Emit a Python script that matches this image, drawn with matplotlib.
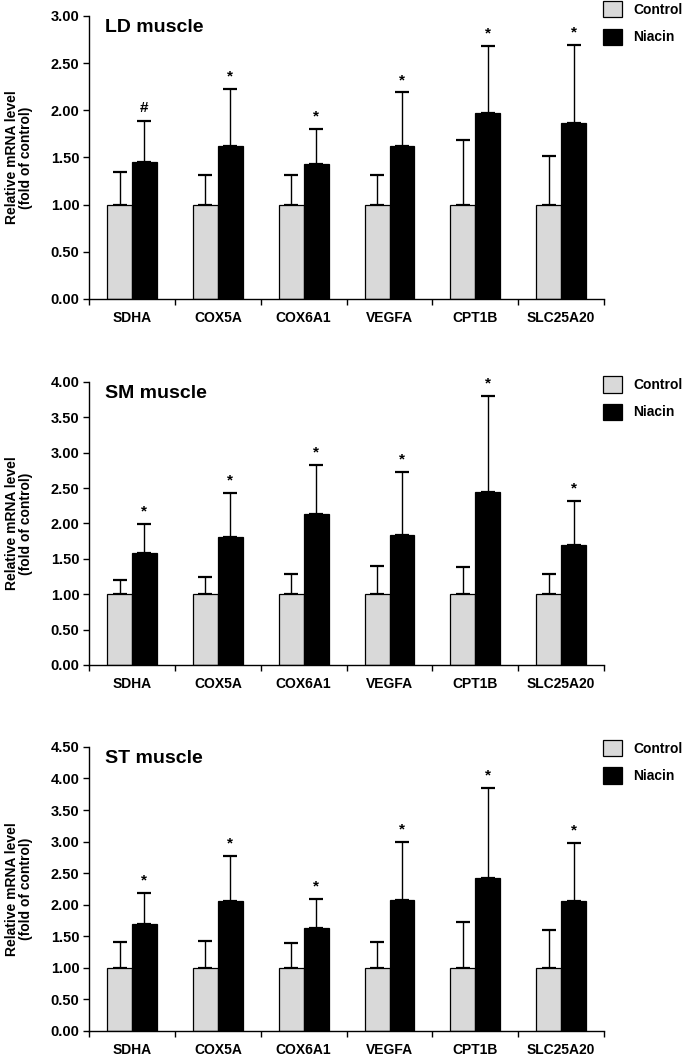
import matplotlib
matplotlib.use("Agg")
import matplotlib.pyplot as plt
import numpy as np

plt.rcParams['font.family'] = ['Liberation Sans', 'DejaVu Sans']
plt.rcParams['font.weight'] = 'bold'

# ── data ──
genes = ["SDHA", "COX5A", "COX6A1", "VEGFA", "CPT1B", "SLC25A20"]
groups = ["Control", "Niacin"]

ld_control = [1.00, 1.00, 1.00, 1.00, 1.00, 1.00]
ld_control_err = [0.35, 0.31, 0.31, 0.31, 0.69, 0.52]
ld_niacin = [1.45, 1.62, 1.43, 1.62, 1.97, 1.86]
ld_niacin_err = [0.44, 0.61, 0.37, 0.57, 0.71, 0.83]
ld_marks = ["#", "*", "*", "*", "*", "*"]

sm_control = [1.00, 1.00, 1.00, 1.00, 1.00, 1.00]
sm_control_err = [0.20, 0.24, 0.29, 0.40, 0.39, 0.29]
sm_niacin = [1.58, 1.81, 2.14, 1.84, 2.45, 1.70]
sm_niacin_err = [0.41, 0.62, 0.69, 0.89, 1.35, 0.62]
sm_marks = ["*", "*", "*", "*", "*", "*"]

st_control = [1.00, 1.00, 1.00, 1.00, 1.00, 1.00]
st_control_err = [0.41, 0.42, 0.40, 0.41, 0.73, 0.60]
st_niacin = [1.70, 2.06, 1.63, 2.08, 2.43, 2.06]
st_niacin_err = [0.49, 0.71, 0.46, 0.92, 1.42, 0.92]
st_marks = ["*", "*", "*", "*", "*", "*"]

panels = [
    ("LD muscle", ld_control, ld_control_err, ld_niacin, ld_niacin_err, ld_marks, 3.0),
    ("SM muscle", sm_control, sm_control_err, sm_niacin, sm_niacin_err, sm_marks, 4.0),
    ("ST muscle", st_control, st_control_err, st_niacin, st_niacin_err, st_marks, 4.5),
]

# axes rectangles (figure fractions) and legend lift above the axes top
rects = [
    [0.130, 0.7169, 0.752, 0.2680],
    [0.130, 0.3703, 0.752, 0.2680],
    [0.130, 0.0237, 0.752, 0.2690],
]
legend_lift = [0.053, 0.021, 0.025]

FS = 10
W = 0.29
CTRL = "#d9d9d9"

fig = plt.figure(figsize=(6.85, 10.56), dpi=100)

for (title, c, ce, n, ne, marks, ymax), rect, lift in zip(panels, rects, legend_lift):
    ax = fig.add_axes(rect)
    x = np.arange(len(genes))

    ax.bar(x - W / 2, c, W, color=CTRL, edgecolor="black", linewidth=0.9,
           label=groups[0], zorder=2)
    ax.bar(x + W / 2, n, W, color="black", edgecolor="black", linewidth=0.9,
           label=groups[1], zorder=2)

    # upper-only error bars
    ax.errorbar(x - W / 2, c, yerr=[np.zeros(len(c)), ce], fmt="none",
                ecolor="black", elinewidth=1.0, capsize=5, capthick=1.6, zorder=1)
    ax.errorbar(x + W / 2, n, yerr=[np.zeros(len(n)), ne], fmt="none",
                ecolor="black", elinewidth=1.0, capsize=5, capthick=1.6, zorder=1)

    for xi, v, e, m in zip(x, n, ne, marks):
        ax.annotate(m, (xi + W / 2, v + e), xytext=(0, 6), textcoords="offset points",
                    ha="center", va="baseline", fontsize=11, fontweight="bold")

    ax.set_xlim(-0.5, len(genes) - 0.5)
    ax.set_ylim(0, ymax)
    yt = np.arange(0, ymax + 0.01, 0.5)
    ax.set_yticks(yt)
    ax.set_yticklabels([f"{t:.2f}" for t in yt], fontsize=10.5, fontweight="bold")
    ax.set_xticks(x)
    ax.set_xticklabels(genes, fontsize=FS, fontweight="bold")
    ax.set_xticks(np.arange(-0.5, len(genes), 1.0), minor=True)
    ax.tick_params(axis="x", which="major", length=0, pad=9)
    ax.tick_params(axis="x", which="minor", length=4, width=1.0, direction="out")
    ax.tick_params(axis="y", length=4, width=1.0, direction="out", pad=3)

    for s in ["top", "right"]:
        ax.spines[s].set_visible(False)
    for s in ["left", "bottom"]:
        ax.spines[s].set_linewidth(1.0)

    ax.set_ylabel("Relative mRNA level\n(fold of control)", fontsize=10,
                  fontweight="bold", linespacing=1.0)
    ax.yaxis.set_label_coords(-0.108, 0.5)

    ax.text(0.03, 0.99, title, transform=ax.transAxes, fontsize=14,
            fontweight="bold", ha="left", va="top")

    ax.legend(loc="upper left", bbox_to_anchor=(0.998, 1 + lift), frameon=False,
              fontsize=FS, handlelength=1.35, handleheight=1.45, handletextpad=0.8,
              labelspacing=0.8, borderaxespad=0, borderpad=0)

fig.savefig("out.png", dpi=100)
